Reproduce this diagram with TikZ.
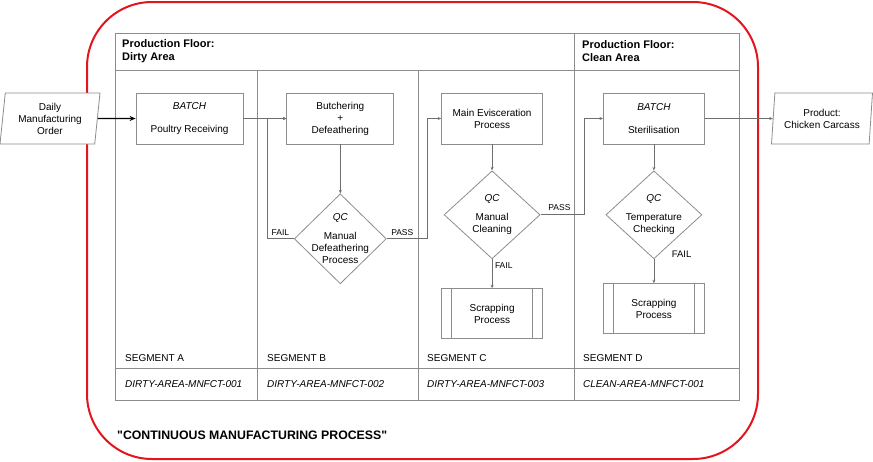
\documentclass[tikz,border=0pt]{standalone}
\usepackage{fontspec}
\setmainfont{Liberation Sans}
\usetikzlibrary{positioning,arrows.meta,shapes.geometric}
\definecolor{edgegray}{HTML}{8C8C8C}
\definecolor{linkgray}{HTML}{6E6E6E}
\definecolor{framered}{HTML}{E3141C}

\begin{document}
\begin{tikzpicture}[
  x=1pt, y=-1pt,
  font=\fontsize{10}{12}\selectfont,
  procbox/.style={draw=edgegray, line width=0.8pt, align=center, minimum width=101pt,
                  minimum height=51pt, inner sep=2pt},
  subproc/.style={procbox, minimum height=50pt,
                  path picture={
                    \draw[edgegray, line width=0.8pt]
                      ([xshift=10pt]path picture bounding box.north west) -- ([xshift=10pt]path picture bounding box.south west)
                      ([xshift=-10pt]path picture bounding box.north east) -- ([xshift=-10pt]path picture bounding box.south east);}},
  qcnode/.style={diamond, draw=edgegray, line width=0.8pt, align=center, inner sep=-12pt,
                 minimum width=96pt, minimum height=88pt},
  iobox/.style={trapezium, trapezium left angle=81, trapezium right angle=99,
                trapezium stretches body, draw=edgegray, fill=white, line width=0.8pt,
                align=center, minimum width=100pt, minimum height=51pt, inner sep=1pt},
  conn/.style={-{Stealth[length=3.5pt, width=3pt]}, line width=0.8pt, linkgray},
  lbl/.style={font=\fontsize{8.5}{10}\selectfont, inner sep=1.5pt, text=black},
  hdr/.style={font=\bfseries\fontsize{11}{13}\selectfont, align=left, anchor=west, inner sep=0pt},
  seg/.style={anchor=west, inner sep=0pt},
  code/.style={anchor=west, inner sep=0pt, font=\itshape\fontsize{10}{12}\selectfont},
  tbl/.style={edgegray, line width=0.8pt},
]
  \useasboundingbox (0,0) rectangle (873,461);

  % frame and swimlane table
  \draw[framered, line width=2pt, rounded corners=65pt] (87,2) rectangle (758,459);
  \draw[tbl] (115,33) rectangle (739,400);
  \draw[tbl] (115,70) -- (739,70);
  \draw[tbl] (115,368) -- (739,368);
  \draw[tbl] (574,33) -- (574,400);
  \foreach \x in {257,418}
    \draw[tbl] (\x,70) -- (\x,400);

  \node[hdr] (dirtyhdr) at (122,51.5) {Production Floor:\\Dirty Area};
  \node[hdr] (cleanhdr) at (582,51.5) {Production Floor:\\Clean Area};

  \foreach \x/\s/\c in {125/A/DIRTY-AREA-MNFCT-001, 267/B/DIRTY-AREA-MNFCT-002,
                        427/C/DIRTY-AREA-MNFCT-003, 583/D/CLEAN-AREA-MNFCT-001} {
    \node[seg] (seg\s) at (\x,358) {SEGMENT \s};
    \node[code] (code\s) at (\x,384) {\c};
  }

  % process steps
  \node[iobox] (order) at (50,118.5) {Daily\\Manufacturing\\Order};
  \node[procbox, minimum width=107pt] (recv) at (189.5,118.5)
    {\textit{BATCH}\\[11pt]Poultry Receiving};
  \node[procbox, minimum width=107pt, right=43pt of recv] (butch)
    {Butchering\\+\\Defeathering};
  \node[qcnode, minimum width=92pt, minimum height=90pt, below=49pt of butch] (qc1)
    {\textit{QC}\\[7pt]Manual\\Defeathering\\Process};
  \node[procbox, right=47pt of butch] (evisc) {Main Evisceration\\Process};
  \node[qcnode, below=26pt of evisc] (qc2) {\textit{QC}\\[7pt]Manual\\Cleaning};
  \node[subproc, below=29pt of qc2] (scrapC) {Scrapping\\Process};
  \node[procbox, right=60pt of evisc] (steril) {\textit{BATCH}\\[11pt]Sterilisation};
  \node[qcnode, below=26pt of steril] (qc3) {\textit{QC}\\[7pt]Temperature\\Checking};
  \node[subproc, below=24pt of qc3] (scrapD) {Scrapping\\Process};
  \node[iobox, minimum width=101pt] (carcass) at (822,118.5) {Product:\\Chicken Carcass};

  % connectors
  \draw[conn, black, line width=1.4pt, -{Stealth[length=6pt, width=5pt]}] (order) -- (recv);
  \draw[conn] (recv) -- (butch);
  \draw[conn] (butch) -- (qc1);
  \draw[conn] (qc1.west) -- ++(-27,0) node[lbl, midway, above=1pt] (fail1) {FAIL} |- (butch.west);
  \draw[conn] (qc1.east) -- ++(41,0) node[lbl, pos=0.38, above=1pt] (pass1) {PASS} |- (evisc.west);
  \draw[conn] (evisc) -- (qc2);
  \draw[conn] (qc2.east) -- ++(44,0) node[lbl, pos=0.43, above=2pt] (pass2) {PASS} |- (steril.west);
  \draw[conn] (qc2) -- node[lbl, pos=0.22, right=1pt] (fail2) {FAIL} (scrapC);
  \draw[conn] (steril) -- (qc3);
  \draw[conn] (qc3) -- node[lbl, font=\fontsize{9.5}{11}\selectfont, pos=0, anchor=west,
                             xshift=16pt, yshift=5pt] (fail3) {FAIL} (scrapD);
  \draw[conn] (steril) -- (carcass);

  \node[anchor=west, inner sep=0pt, font=\bfseries\fontsize{12.3}{14}\selectfont] (caption)
    at (117,435) {\textquotedbl CONTINUOUS MANUFACTURING PROCESS\textquotedbl};
\end{tikzpicture}
\end{document}
